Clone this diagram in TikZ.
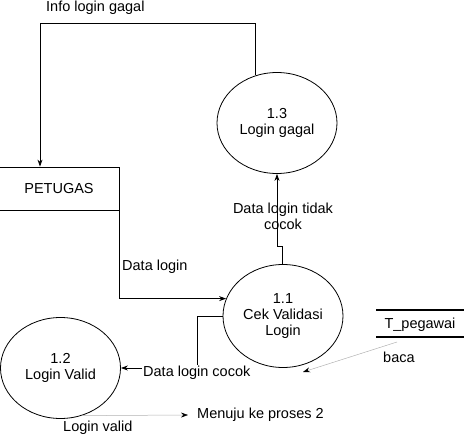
\documentclass[tikz,border=0pt]{standalone}
\usepackage{fontspec}
\setmainfont{Liberation Sans}
\usetikzlibrary{shapes.geometric,arrows.meta}
\begin{document}
\begin{tikzpicture}[x=1pt,y=-1pt,
  every node/.style={font=\fontsize{14.5}{16}\selectfont},
  proc/.style={draw,ellipse,line width=0.8pt,inner sep=0pt,align=center},
  ent/.style={draw,rectangle,line width=0.8pt,inner sep=0pt},
  flow/.style={line width=0.8pt,-{Stealth[length=7pt,width=5pt]}},
  gflow/.style={line width=0.5pt,draw=black!30,-{Stealth[length=7pt,width=5pt,black]}},
  lbl/.style={inner sep=1pt}]
\useasboundingbox (0,0) rectangle (464,436);
% nodes
\node[ent,minimum width=120pt,minimum height=43pt] (petugas) at (59,188.5) {PETUGAS};
\node[proc,minimum width=120pt,minimum height=101pt] (p13) at (277,123) {1.3\\Login gagal};
\node[proc,minimum width=120pt,minimum height=103pt] (p11) at (283,316) {1.1\\Cek Validasi\\Login};
\node[proc,minimum width=120pt,minimum height=101pt] (p12) at (60.5,368) {1.2\\Login Valid};
% data store
\coordinate (s1) at (376,310); \coordinate (s2) at (464,310);
\coordinate (s3) at (376,337); \coordinate (s4) at (464,337);
\draw[line width=2pt] (s1) -- (s2);
\draw[line width=2pt] (s3) -- (s4);
\node (store) at (420,325) {T\_pegawai};
% connectors
\coordinate (c1) at (40,23);
\draw[flow] (p13.114) |- (c1) -- (c1 |- petugas.north);
\node[lbl,anchor=west] (t1) at (45,8) {Info login gagal};

\draw[flow] (petugas.south east) |- (p11.163);
\node[lbl,anchor=west] (t2) at (121,267) {Data login};

\coordinate (j1) at (282,246);
\coordinate (j2) at (277,246);
\draw[flow] (p11.north -| j1) -- (j1) -- (j2) -- (p13.south);
\node[lbl,align=center] (t3) at (283,216) {Data login tidak\\cocok};

\coordinate (c3) at (197,316);
\draw[flow] (p11.west) -- (c3) |- (p12.east);
\node[lbl,anchor=west,fill=white] (t4) at (142,373) {Data login cocok};

\coordinate (b1) at (397,342);
\coordinate (b2) at (303,372);
\draw[gflow] (b1) -- (b2);
\node[lbl,anchor=west] (t5) at (382,357) {baca};

\coordinate (m1) at (188,415);
\draw[gflow] (p12.-66) -- (m1);
\node[lbl,anchor=west] (t6) at (196,415) {Menuju ke proses 2};
\node[lbl,anchor=west] (t7) at (62,428) {Login valid};
\end{tikzpicture}
\end{document}
